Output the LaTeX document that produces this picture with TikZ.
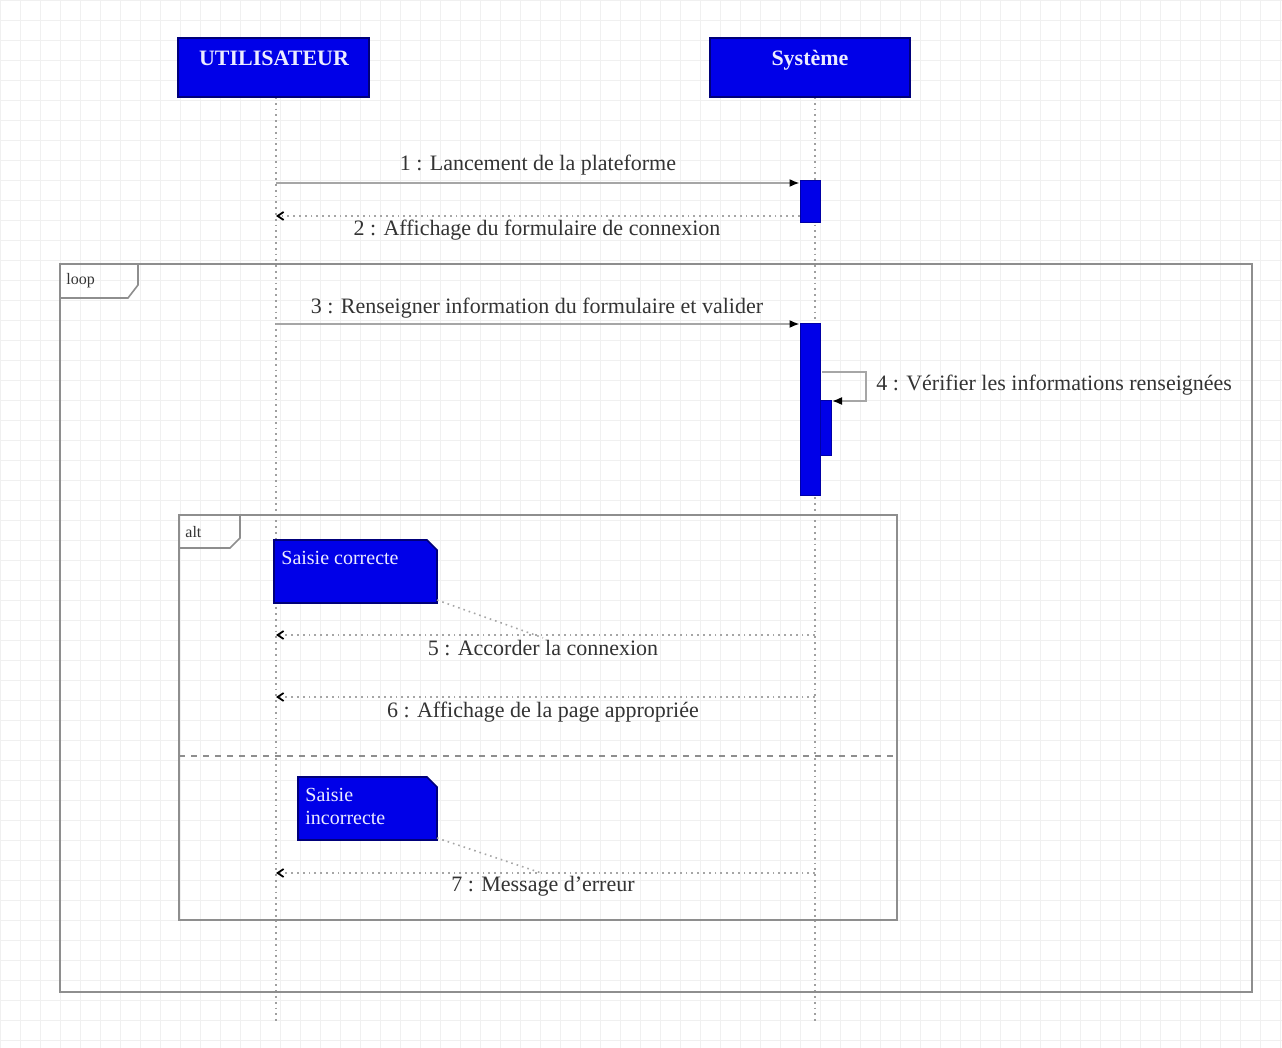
\documentclass[tikz,border=0pt]{standalone}
\usepackage{fontspec}
\setmainfont{Liberation Serif}
\usetikzlibrary{arrows.meta,calc}
\definecolor{umlblue}{HTML}{0000E8}
\definecolor{umledge}{HTML}{00007A}
\definecolor{framegray}{HTML}{8E8E8E}
\definecolor{textgray}{HTML}{333333}
\definecolor{gridgray}{HTML}{F0F0F0}

\begin{document}
\begin{tikzpicture}[x=0.5pt,y=-0.5pt,
  lifeline/.style={draw=gray!75, dotted, line width=0.9pt},
  headbox/.style={draw=umledge, fill=umlblue, line width=0.8pt, inner sep=0pt},
  headtext/.style={text=white!92!blue, font=\fontsize{11}{13}\selectfont\bfseries, inner sep=0pt},
  actbar/.style={draw=umledge!60!umlblue, fill=umlblue, line width=0.5pt, inner sep=0pt, minimum width=10pt},
  callmsg/.style={draw=gray!70, line width=0.8pt, -{Latex[length=5pt,width=4pt,black]}},
  replymsg/.style={draw=gray!70, dotted, line width=0.9pt, -{Straight Barb[length=3pt,width=4pt,black]}},
  msglabel/.style={text=textgray, font=\fontsize{11}{13}\selectfont, inner sep=1pt},
  frameline/.style={draw=framegray, line width=1.2pt},
  framelabel/.style={text=textgray, font=\fontsize{8}{10}\selectfont, inner sep=0pt, anchor=west},
  notebox/.style={draw=umledge, fill=umlblue, line width=0.8pt},
  notetext/.style={text=white!92!blue, font=\fontsize{10}{11.5}\selectfont, inner sep=0pt, anchor=north west, align=left},
  notelink/.style={draw=gray!70, dotted, line width=0.8pt}
]
% page and faint background grid
\useasboundingbox (0,0) rectangle (1282,1048);
\fill[white] (0,0) rectangle (1282,1048);
\foreach \gx in {0,20,...,1280} \draw[gridgray, line width=0.4pt] (\gx,0) -- (\gx,1048);
\foreach \gy in {0,20,...,1040} \draw[gridgray, line width=0.4pt] (0,\gy) -- (1282,\gy);

% lifelines
\draw[lifeline] (276,97) -- (276,1022);
\draw[lifeline] (815,97) -- (815,1022);

% participants
\node[headbox, minimum width=95.5pt, minimum height=29.5pt] (user) at (273.5,67.5) {};
\node[headtext] (usertxt) at (274,58) {UTILISATEUR};
\node[headbox, minimum width=100pt, minimum height=29.5pt] (sys) at (810,67.5) {};
\node[headtext] (systxt) at (810,60) {Système};

% loop frame
\draw[frameline] (60,264) rectangle (1252,992);
\draw[frameline, line width=0.8pt] (60,298) -- (128,298) -- (138,285) -- (138,264);
\node[framelabel] (looplbl) at (66,281) {loop};

% activation bars
\node[actbar, minimum height=21pt] (act1) at (810,202) {};
\node[actbar, minimum height=86pt] (act2) at (810,410) {};
\node[actbar, minimum width=5.5pt, minimum height=27.5pt] (act3) at (826,428.5) {};

% message 1 and reply 2
\coordinate (u1) at (276,183);
\draw[callmsg] (u1) -- (u1 -| act1.west);
\node[msglabel] (m1) at (538,165) {1 : Lancement de la plateforme};
\coordinate (u2) at (276,216);
\draw[replymsg] (u2 -| act1.west) -- (u2);
\node[msglabel] (m2) at (537,230) {2 : Affichage du formulaire de connexion};

% message 3
\coordinate (u3) at (276,324);
\draw[callmsg] (u3) -- (u3 -| act2.west);
\node[msglabel] (m3) at (537,308) {3 : Renseigner information du formulaire et valider};

% self call 4
\coordinate (s4) at (822,372);
\draw[callmsg] (s4) -- (866,372) -- (866,401) -- (act3.east |- 0,401);
\node[msglabel, anchor=west] (m4) at (874,385) {4 : Vérifier les informations renseignées};

% alt frame
\draw[frameline] (179,515) rectangle (897,920);
\draw[frameline, line width=0.8pt] (179,548) -- (230,548) -- (240,538) -- (240,515);
\node[framelabel] (altlbl) at (185,532) {alt};
\draw[draw=framegray, dashed, line width=1pt] (179,756) -- (897,756);

% first alternative
\draw[notebox] (274,540) -- (427,540) -- (437,550) -- (437,603) -- (274,603) -- cycle;
\node[notetext] (n1) at (281,551) {Saisie correcte};
\coordinate (n1c) at (437,600);
\coordinate (u5) at (276,635);
\draw[replymsg] (815,635) -- (u5);
\node[msglabel] (m5) at (543,648) {5 : Accorder la connexion};
\draw[notelink] (n1c) -- (m5.north);
\coordinate (u6) at (276,697);
\draw[replymsg] (815,697) -- (u6);
\node[msglabel] (m6) at (543,712) {6 : Affichage de la page appropriée};

% second alternative
\draw[notebox] (298,777) -- (427,777) -- (437,787) -- (437,840) -- (298,840) -- cycle;
\node[notetext] (n2) at (305,788) {Saisie\\incorrecte};
\coordinate (n2c) at (437,838);
\coordinate (u7) at (276,873);
\draw[replymsg] (815,873) -- (u7);
\node[msglabel] (m7) at (543,886) {7 : Message d'erreur};
\draw[notelink] (n2c) -- (m7.north);
\end{tikzpicture}
\end{document}
